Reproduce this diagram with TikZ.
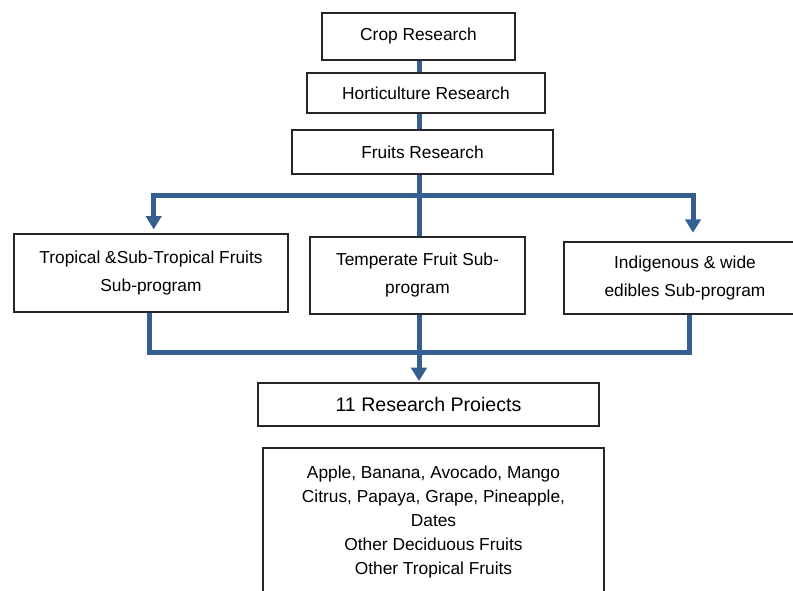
\documentclass[tikz,border=0pt]{standalone}
\usepackage{fontspec}
\setmainfont{Liberation Sans}
\usetikzlibrary{arrows.meta, calc}
\definecolor{linkblue}{RGB}{54,95,145}

\begin{document}
\begin{tikzpicture}[x=0.75pt, y=-0.75pt,
    box/.style={draw=black!85, line width=0.9pt, fill=white, align=center, inner sep=2pt,
      font=\fontsize{13}{21}\selectfont},
    link/.style={draw=linkblue, line width=3.75pt},
    tip/.style={-{Triangle[width=11.5pt, length=10pt]}}]
  \clip (0,0) rectangle (793,590);
  % Research levels
  \node[box, minimum width=144.75pt, minimum height=35.25pt] (crop) at (418.5,36.5) {Crop Research};
  \node[box, minimum width=178.5pt, minimum height=30pt] (hort) at (426,93) {Horticulture Research};
  \node[box, minimum width=195.75pt, minimum height=33pt] (fruits) at (422.5,152) {Fruits Research};
  % Sub-programs
  \node[box, minimum width=205.5pt, minimum height=58.5pt] (trop) at (151,273) {Tropical \&Sub-Tropical Fruits\\Sub-program};
  \node[box, minimum width=161.25pt, minimum height=57.75pt] (temp) at (417.5,275.5) {Temperate Fruit Sub-\\program};
  \node[box, minimum width=181.5pt, minimum height=54pt] (indig) at (685,278) {Indigenous \& wide\\edibles Sub-program};
  % Projects
  \node[box, minimum width=255.75pt, minimum height=32.25pt, font=\fontsize{14.7}{18}\selectfont] (proj) at (428.5,404.5) {11 Research Proiects};
  \node[box, minimum width=255.75pt, minimum height=111pt, font=\fontsize{13}{18}\selectfont] (list) at (433.5,522)
    {Apple, Banana, Avocado, Mango\\Citrus, Papaya, Grape, Pineapple,\\Dates\\Other Deciduous Fruits\\Other Tropical Fruits};
  % Connectors
  \coordinate (split) at (419,195);
  \coordinate (merge) at (419,352);
  \draw[link] (crop.south -| split) -- (split |- hort.north);
  \draw[link] (hort.south -| split) -- (split |- fruits.north);
  \draw[link] (fruits.south -| split) -- (split |- temp.north);
  \draw[link, tip, shorten >=3pt] (split) -| ([xshift=2pt]trop.north);
  \draw[link, tip, shorten >=6.5pt] (split) -| ([xshift=6pt]indig.north);
  \draw[link] ([xshift=-1pt]trop.south) |- (merge) -| ([xshift=3pt]indig.south);
  \draw[link, tip, shorten >=1pt] (temp.south -| merge) -- (merge |- proj.north);
\end{tikzpicture}
\end{document}
